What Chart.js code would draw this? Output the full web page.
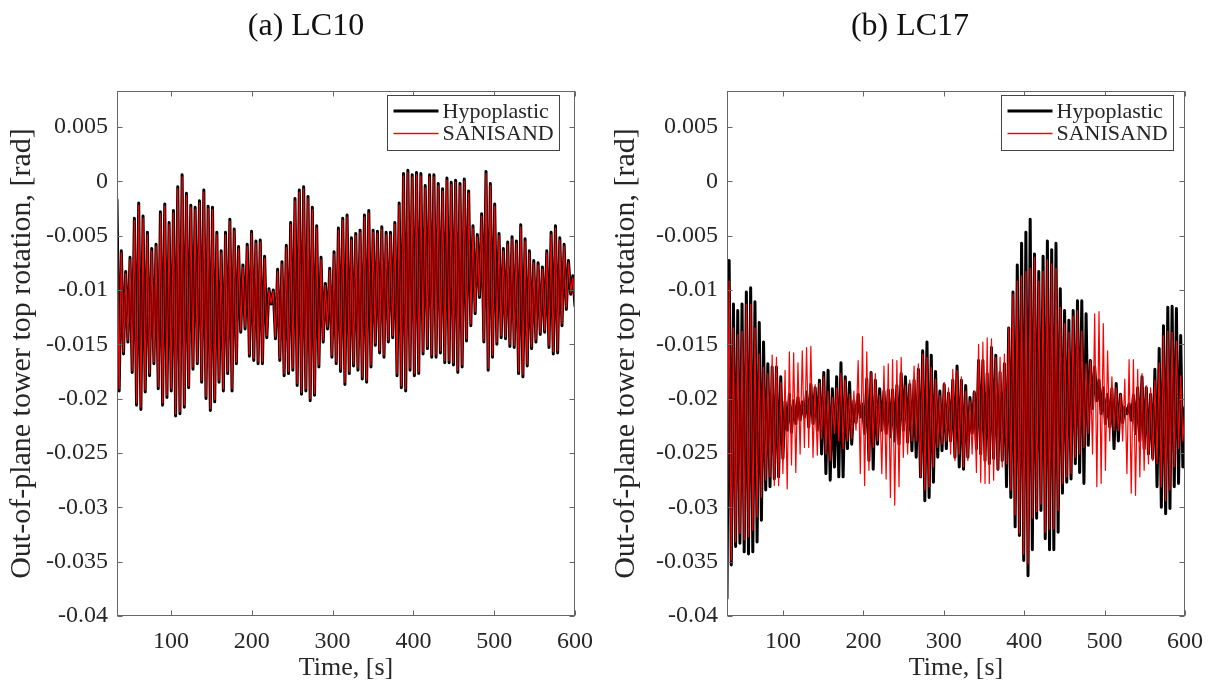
<!DOCTYPE html>
<html lang="en">
<head>
<meta charset="UTF-8">
<title>Out-of-plane tower top rotation</title>
<script src="https://cdn.jsdelivr.net/npm/chart.js"></script>
<style>
  body { margin: 0; background: #fff; }
  #wrap { position: relative; width: 1214px; height: 688px; }
  canvas { position: absolute; top: 0; }
</style>
</head>
<body>
<div id="wrap">
  <canvas id="lc10" width="607" height="688" style="left:0"></canvas>
  <canvas id="lc17" width="607" height="688" style="left:607px"></canvas>
</div>
<script>
const xTicks = [100, 200, 300, 400, 500, 600];
const yTicks = [0.005, 0, -0.005, -0.01, -0.015, -0.02, -0.025, -0.03, -0.035, -0.04];
const yTickLabels = ['0.005', '0', '-0.005', '-0.01', '-0.015', '-0.02', '-0.025', '-0.03', '-0.035', '-0.04'];
const seriesNames = ['Hypoplastic', 'SANISAND'];
const seriesColors = ['#000000', '#ff0000'];

// turning points (peak / trough) of each response,
// evenly spread in time from the first sample to 600 s
const lc10Start = 33.2;
const lc17Start = 30.3;
const tEnd = 600;

const lc10Hypo = [
  -0.0017, -0.0193, -0.0064, -0.0159, -0.0083, -0.0148, -0.0070, -0.0176, -0.0034, -0.0206,
  -0.0020, -0.0210, -0.0032, -0.0194, -0.0047, -0.0179, -0.0062, -0.0168, -0.0058, -0.0191,
  -0.0028, -0.0206, -0.0021, -0.0199, -0.0038, -0.0193, -0.0027, -0.0216, -0.0005, -0.0214,
  0.0006, -0.0208, -0.0011, -0.0190, -0.0022, -0.0173, -0.0024, -0.0168, -0.0018, -0.0185,
  -0.0008, -0.0200, -0.0023, -0.0211, -0.0024, -0.0203, -0.0047, -0.0185, -0.0064, -0.0193,
  -0.0047, -0.0177, -0.0035, -0.0193, -0.0044, -0.0168, -0.0060, -0.0139, -0.0077, -0.0136,
  -0.0058, -0.0161, -0.0046, -0.0165, -0.0055, -0.0168, -0.0054, -0.0168, -0.0069, -0.0144,
  -0.0099, -0.0113, -0.0100,
  -0.0145, -0.0081, -0.0165, -0.0074, -0.0179, -0.0059, -0.0177, -0.0038, -0.0174, -0.0016,
  -0.0188, -0.0008, -0.0196, -0.0005, -0.0193, -0.0014, -0.0202, -0.0024, -0.0197, -0.0041,
  -0.0171, -0.0070, -0.0148, -0.0094, -0.0136, -0.0080, -0.0162, -0.0065, -0.0168, -0.0043,
  -0.0175, -0.0034, -0.0187, -0.0031, -0.0177, -0.0052, -0.0170, -0.0048, -0.0174, -0.0045,
  -0.0182, -0.0031, -0.0185, -0.0027, -0.0171, -0.0045, -0.0151, -0.0046, -0.0158, -0.0042,
  -0.0162, -0.0047, -0.0148, -0.0047, -0.0144, -0.0038, -0.0179, -0.0020, -0.0190, 0.0007,
  -0.0193, 0.0010, -0.0174, 0.0006, -0.0179, 0.0008, -0.0177, 0.0007, -0.0159,
  -0.0004, -0.0154, 0.0006, -0.0162, 0.0006, -0.0162, -0.0002, -0.0158, -0.0007, -0.0167,
  0.0003, -0.0167, -0.0001, -0.0169, 0.0001, -0.0176, -0.0002, -0.0171, 0.0002, -0.0147,
  -0.0009, -0.0133, -0.0041, -0.0122, -0.0049, -0.0107, -0.0030, -0.0148, 0.0009, -0.0174,
  -0.0002, -0.0162, -0.0021, -0.0150, -0.0048, -0.0144, -0.0062, -0.0145, -0.0056, -0.0152,
  -0.0051, -0.0153, -0.0055, -0.0177, -0.0040, -0.0180, -0.0053, -0.0170, -0.0064, -0.0154,
  -0.0073, -0.0148, -0.0075, -0.0141, -0.0079, -0.0139, -0.0064, -0.0153, -0.0047, -0.0159,
  -0.0041, -0.0158, -0.0052, -0.0133, -0.0058, -0.0118, -0.0073, -0.0104, -0.0087, -0.0115
];

const lc10Sani = [
  -0.0019, -0.0191, -0.0066, -0.0157, -0.0085, -0.0146, -0.0072, -0.0174, -0.0036, -0.0204,
  -0.0022, -0.0208, -0.0034, -0.0192, -0.0049, -0.0177, -0.0064, -0.0166, -0.0060, -0.0189,
  -0.0030, -0.0204, -0.0023, -0.0197, -0.0040, -0.0191, -0.0029, -0.0214, -0.0007, -0.0212,
  0.0004, -0.0206, -0.0013, -0.0188, -0.0024, -0.0171, -0.0026, -0.0166, -0.0020, -0.0183,
  -0.0010, -0.0198, -0.0025, -0.0209, -0.0026, -0.0201, -0.0049, -0.0183, -0.0066, -0.0191,
  -0.0049, -0.0175, -0.0037, -0.0191, -0.0046, -0.0166, -0.0062, -0.0137, -0.0079, -0.0134,
  -0.0060, -0.0159, -0.0048, -0.0163, -0.0057, -0.0166, -0.0056, -0.0166, -0.0071, -0.0142,
  -0.0100, -0.0112, -0.0101,
  -0.0143, -0.0083, -0.0163, -0.0076, -0.0177, -0.0061, -0.0175, -0.0040, -0.0172, -0.0018,
  -0.0186, -0.0010, -0.0194, -0.0007, -0.0191, -0.0016, -0.0200, -0.0026, -0.0195, -0.0043,
  -0.0169, -0.0072, -0.0146, -0.0096, -0.0134, -0.0082, -0.0160, -0.0067, -0.0166, -0.0045,
  -0.0173, -0.0036, -0.0185, -0.0033, -0.0175, -0.0054, -0.0168, -0.0050, -0.0172, -0.0047,
  -0.0180, -0.0033, -0.0183, -0.0029, -0.0169, -0.0047, -0.0149, -0.0048, -0.0156, -0.0044,
  -0.0160, -0.0049, -0.0146, -0.0049, -0.0142, -0.0040, -0.0177, -0.0022, -0.0188, 0.0005,
  -0.0191, 0.0008, -0.0172, 0.0004, -0.0177, 0.0006, -0.0175, 0.0005, -0.0157,
  -0.0006, -0.0152, 0.0004, -0.0160, 0.0004, -0.0160, -0.0004, -0.0156, -0.0009, -0.0165,
  0.0001, -0.0165, -0.0003, -0.0167, -0.0001, -0.0174, -0.0004, -0.0169, 0.0000, -0.0145,
  -0.0011, -0.0131, -0.0043, -0.0120, -0.0051, -0.0105, -0.0032, -0.0146, 0.0007, -0.0172,
  -0.0004, -0.0160, -0.0023, -0.0148, -0.0050, -0.0142, -0.0064, -0.0143, -0.0058, -0.0150,
  -0.0053, -0.0151, -0.0057, -0.0175, -0.0042, -0.0178, -0.0055, -0.0168, -0.0066, -0.0152,
  -0.0075, -0.0146, -0.0077, -0.0139, -0.0081, -0.0137, -0.0066, -0.0151, -0.0049, -0.0157,
  -0.0043, -0.0156, -0.0054, -0.0131, -0.0060, -0.0116, -0.0075, -0.0102, -0.0089, -0.0113
];

const lc17Hypo = [
  -0.0384, -0.0073, -0.0353, -0.0113, -0.0336, -0.0119, -0.0333, -0.0113, -0.0341, -0.0102,
  -0.0343, -0.0098, -0.0341, -0.0111, -0.0332, -0.0130, -0.0312, -0.0148, -0.0284, -0.0168,
  -0.0281, -0.0171, -0.0274, -0.0171, -0.0272, -0.0180, -0.0255, -0.0203, -0.0229, -0.0196,
  -0.0231, -0.0202, -0.0223, -0.0199, -0.0220, -0.0203, -0.0217, -0.0194, -0.0226, -0.0187,
  -0.0223, -0.0190, -0.0229, -0.0183, -0.0251, -0.0176, -0.0269, -0.0174, -0.0275, -0.0191,
  -0.0263, -0.0180, -0.0272, -0.0167, -0.0272, -0.0180, -0.0246, -0.0185, -0.0242, -0.0202,
  -0.0222, -0.0196, -0.0217, -0.0205, -0.0232, -0.0182, -0.0257, -0.0176, -0.0265,
  -0.0183, -0.0242, -0.0191, -0.0229, -0.0193, -0.0232, -0.0192, -0.0235, -0.0192, -0.0239,
  -0.0188, -0.0242, -0.0177, -0.0229, -0.0180, -0.0240, -0.0187, -0.0248, -0.0183, -0.0254,
  -0.0173, -0.0272, -0.0156, -0.0294, -0.0148, -0.0291, -0.0160, -0.0277, -0.0175, -0.0254,
  -0.0193, -0.0248, -0.0187, -0.0246, -0.0195, -0.0239, -0.0183, -0.0254, -0.0170, -0.0263,
  -0.0183, -0.0265, -0.0188, -0.0254, -0.0199, -0.0232, -0.0194, -0.0246, -0.0165, -0.0251,
  -0.0165, -0.0257, -0.0177, -0.0260, -0.0153, -0.0255, -0.0160, -0.0265, -0.0176, -0.0257,
  -0.0168, -0.0281, -0.0135, -0.0291, -0.0102, -0.0318, -0.0077, -0.0326, -0.0057, -0.0349,
  -0.0047, -0.0363, -0.0035,
  -0.0339, -0.0067, -0.0310, -0.0083, -0.0303, -0.0069, -0.0329, -0.0055, -0.0339, -0.0063,
  -0.0339, -0.0057, -0.0323, -0.0099, -0.0287, -0.0119, -0.0277, -0.0128, -0.0274, -0.0119,
  -0.0260, -0.0110, -0.0268, -0.0110, -0.0278, -0.0122, -0.0243, -0.0165, -0.0209, -0.0171,
  -0.0202, -0.0183, -0.0214, -0.0190, -0.0223, -0.0196, -0.0226, -0.0191, -0.0246, -0.0186,
  -0.0239, -0.0196, -0.0222, -0.0208, -0.0214, -0.0205, -0.0220, -0.0197, -0.0232, -0.0190,
  -0.0239, -0.0180, -0.0246, -0.0190, -0.0251, -0.0196, -0.0255, -0.0173, -0.0281, -0.0154,
  -0.0300, -0.0133, -0.0306, -0.0116, -0.0301, -0.0115, -0.0281, -0.0117, -0.0278, -0.0142,
  -0.0263, -0.0208
];

const lc17Sani = [
  -0.0361, -0.0092, -0.0349, -0.0135, -0.0332, -0.0141, -0.0324, -0.0138, -0.0330, -0.0113,
  -0.0327, -0.0113, -0.0321, -0.0135, -0.0309, -0.0159, -0.0291, -0.0171, -0.0275, -0.0177,
  -0.0272, -0.0160, -0.0280, -0.0162, -0.0280, -0.0185, -0.0269, -0.0174, -0.0283, -0.0157,
  -0.0261, -0.0158, -0.0268, -0.0167, -0.0251, -0.0156, -0.0245, -0.0153, -0.0245, -0.0152,
  -0.0254, -0.0187, -0.0252, -0.0186, -0.0237, -0.0180, -0.0251, -0.0193, -0.0257, -0.0199,
  -0.0232, -0.0190, -0.0239, -0.0177, -0.0246, -0.0183, -0.0239, -0.0196, -0.0237, -0.0193,
  -0.0229, -0.0165, -0.0269, -0.0143, -0.0280, -0.0157, -0.0266, -0.0176, -0.0245, -0.0177,
  -0.0239, -0.0197, -0.0269, -0.0170, -0.0274, -0.0168, -0.0291, -0.0164, -0.0298, -0.0165,
  -0.0281, -0.0162, -0.0254, -0.0188, -0.0251, -0.0183, -0.0239, -0.0170, -0.0239, -0.0168,
  -0.0272, -0.0159, -0.0284, -0.0162, -0.0281, -0.0171, -0.0263, -0.0182, -0.0245, -0.0197,
  -0.0242, -0.0185, -0.0239, -0.0190, -0.0251, -0.0173, -0.0257, -0.0174, -0.0251, -0.0180,
  -0.0263, -0.0193, -0.0257, -0.0202, -0.0251, -0.0193, -0.0268, -0.0150, -0.0277, -0.0148,
  -0.0278, -0.0144, -0.0278, -0.0145, -0.0275, -0.0162, -0.0266, -0.0162, -0.0263, -0.0159,
  -0.0260, -0.0135, -0.0284, -0.0104, -0.0307, -0.0092, -0.0324, -0.0087, -0.0343, -0.0083,
  -0.0352, -0.0080,
  -0.0310, -0.0070, -0.0304, -0.0092, -0.0297, -0.0083, -0.0323, -0.0072, -0.0320, -0.0076,
  -0.0320, -0.0080, -0.0303, -0.0116, -0.0278, -0.0131, -0.0272, -0.0139, -0.0269, -0.0124,
  -0.0254, -0.0119, -0.0251, -0.0138, -0.0245, -0.0168, -0.0232, -0.0165, -0.0251, -0.0122,
  -0.0281, -0.0120, -0.0278, -0.0131, -0.0266, -0.0156, -0.0239, -0.0180, -0.0229, -0.0190,
  -0.0229, -0.0196, -0.0239, -0.0182, -0.0269, -0.0164, -0.0287, -0.0164, -0.0289, -0.0173,
  -0.0272, -0.0177, -0.0266, -0.0188, -0.0260, -0.0190, -0.0257, -0.0183, -0.0260, -0.0167,
  -0.0281, -0.0142, -0.0294, -0.0138, -0.0284, -0.0139, -0.0263, -0.0147, -0.0246, -0.0179,
  -0.0239, -0.0208
];

const serif = "'Liberation Serif', 'Times New Roman', serif";
const ink = '#262626';
Chart.defaults.font.family = serif;
Chart.defaults.color = ink;

function toPoints(values, start) {
  const step = (tEnd - start) / (values.length - 1);
  return values.map((v, i) => ({ x: start + i * step, y: v }));
}

// panel heading, MATLAB style box with inward ticks, and the boxed legend
const boxPlugin = {
  id: 'box',
  afterDraw(chart, args, opts) {
    const { ctx, chartArea: a, scales: { x, y } } = chart;
    ctx.save();

    ctx.fillStyle = '#111';
    ctx.font = '32px ' + serif;
    ctx.textAlign = 'center';
    ctx.textBaseline = 'middle';
    ctx.fillText(opts.title, opts.titleX, 27);

    const L = Math.round(a.left) + 0.5, R = Math.round(a.right) - 0.5;
    const T = Math.round(a.top) + 0.5, B = Math.round(a.bottom) - 0.5;
    ctx.strokeStyle = '#666';
    ctx.lineWidth = 1;
    ctx.strokeRect(L, T, R - L, B - T);
    ctx.beginPath();
    xTicks.forEach(v => {
      const px = Math.round(x.getPixelForValue(v)) + 0.5;
      ctx.moveTo(px, B); ctx.lineTo(px, B - 5);
      ctx.moveTo(px, T); ctx.lineTo(px, T + 5);
    });
    yTicks.forEach(v => {
      const py = Math.round(y.getPixelForValue(v)) + 0.5;
      ctx.moveTo(L, py); ctx.lineTo(L + 5, py);
      ctx.moveTo(R, py); ctx.lineTo(R - 5, py);
    });
    ctx.stroke();

    // legend
    const w = 172, h = 55;
    const bx = Math.round(a.right - opts.inset - w) + 0.5;
    const by = Math.round(a.top + 4) + 0.5;
    ctx.fillStyle = '#fff';
    ctx.fillRect(bx, by, w, h);
    ctx.strokeStyle = '#444';
    ctx.lineWidth = 1;
    ctx.strokeRect(bx, by, w, h);
    const rows = [15.5, 38];
    const widths = [3, 1.5];
    ctx.textAlign = 'left';
    seriesNames.forEach((name, i) => {
      ctx.strokeStyle = seriesColors[i];
      ctx.lineWidth = widths[i];
      ctx.beginPath();
      ctx.moveTo(bx + 6, by + rows[i]);
      ctx.lineTo(bx + 51, by + rows[i]);
      ctx.stroke();
      ctx.fillStyle = ink;
      ctx.font = '22px ' + serif;
      ctx.textBaseline = 'middle';
      ctx.fillText(name, bx + 55, by + rows[i] + 1);
    });
    ctx.restore();
  }
};

function makeChart(id, title, titleX, start, hypo, sani, yWidth, yTitlePad, padRight, inset) {
  new Chart(document.getElementById(id), {
    type: 'line',
    data: {
      datasets: [
        {
          label: seriesNames[0],
          data: toPoints(hypo, start),
          borderColor: seriesColors[0],
          borderWidth: 3,
          order: 1
        },
        {
          label: seriesNames[1],
          data: toPoints(sani, start),
          borderColor: seriesColors[1],
          borderWidth: 1.2,
          order: 0
        }
      ]
    },
    options: {
      responsive: false,
      animation: false,
      events: [],
      layout: { padding: { left: 0, right: padRight, top: 91, bottom: 0 } },
      elements: {
        point: { radius: 0 },
        line: { tension: 0, borderJoinStyle: 'round', borderCapStyle: 'round' }
      },
      scales: {
        x: {
          type: 'linear',
          min: start,
          max: tEnd,
          afterBuildTicks: s => { s.ticks = xTicks.map(v => ({ value: v })); },
          afterFit: s => { s.height = 72; },
          grid: { display: false, drawTicks: false },
          border: { display: false },
          ticks: { font: { size: 24 }, color: ink, padding: 11, maxRotation: 0, autoSkip: false },
          title: {
            display: true,
            text: 'Time, [s]',
            font: { size: 26 },
            color: ink,
            padding: { top: 0, bottom: 4 }
          }
        },
        y: {
          type: 'linear',
          min: -0.04,
          max: 0.0083,
          afterBuildTicks: s => { s.ticks = yTicks.map(v => ({ value: v })); },
          afterFit: s => { s.width = yWidth; },
          grid: { display: false, drawTicks: false },
          border: { display: false },
          ticks: {
            font: { size: 24 },
            color: ink,
            padding: 9,
            autoSkip: false,
            callback: v => {
              const i = yTicks.findIndex(t => Math.abs(t - v) < 1e-9);
              return i < 0 ? '' : yTickLabels[i];
            }
          },
          title: {
            display: true,
            text: 'Out-of-plane tower top rotation, [rad]',
            font: { size: 30 },
            color: ink,
            padding: { top: yTitlePad, bottom: 0 }
          }
        }
      },
      plugins: {
        legend: { display: false },
        tooltip: { enabled: false },
        title: { display: false },
        box: { inset: inset, title: title, titleX: titleX }
      }
    },
    plugins: [boxPlugin]
  });
}

makeChart('lc10', '(a) LC10', 306, lc10Start, lc10Hypo, lc10Sani, 117, 4, 32, 16);
makeChart('lc17', '(b) LC17', 303, lc17Start, lc17Hypo, lc17Sani, 120, 1, 29, 12);
</script>
</body>
</html>
